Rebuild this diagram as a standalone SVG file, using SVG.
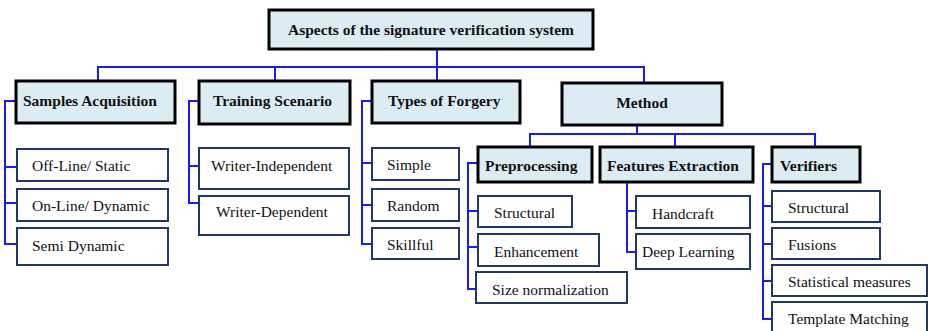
<svg xmlns="http://www.w3.org/2000/svg" width="928" height="331" viewBox="0 0 928 331">
<style>
.h rect{fill:#dbecf2;stroke:#000;stroke-width:3}
.c rect{fill:#fff;stroke:#1f3864;stroke-width:2}
text{font-family:"Liberation Serif","Times New Roman",serif;font-size:15.5px;fill:#111}
.h text{font-weight:bold}
#connectors path{fill:none;stroke:#1a1aff;stroke-width:2}
</style>
<rect width="928" height="331" fill="#fff"/>
<g id="connectors">
<path d="M437 49V81M98 81V67H644V83M275 67V81"/>
<path d="M16 101H5V244H17M5 167H17M5 203H17"/>
<path d="M199 101H189V203H199M189 166H199"/>
<path d="M372 101H362V244H372M362 163H372M362 205H372"/>
<path d="M637 125V134M530 147V134H815V147M675 134V147"/>
<path d="M478 163H468V289H476M468 211H478M468 247H478"/>
<path d="M627 182V252H636M627 211H636"/>
<path d="M772 164H763V319H772M763 206H772M763 244H772M763 281H772"/>
</g>
<g id="root" class="h"><rect x="269" y="10" width="324" height="39"/><text x="431" y="35" text-anchor="middle">Aspects of the signature verification system</text></g>
<g id="samples" class="h"><rect x="16" y="81" width="159" height="42"/><text x="23" y="106">Samples Acquisition</text></g>
<g id="training" class="h"><rect x="199" y="81" width="151" height="43"/><text x="213" y="106">Training Scenario</text></g>
<g id="forgery" class="h"><rect x="372" y="81" width="148" height="42"/><text x="388" y="106">Types of Forgery</text></g>
<g id="method" class="h"><rect x="562" y="83" width="160" height="42"/><text x="642" y="108" text-anchor="middle">Method</text></g>
<g id="preprocessing" class="h"><rect x="478" y="147" width="114" height="35"/><text x="485" y="171">Preprocessing</text></g>
<g id="features" class="h"><rect x="600" y="147" width="153" height="35"/><text x="607" y="171">Features Extraction</text></g>
<g id="verifiers" class="h"><rect x="772" y="147" width="88" height="35"/><text x="780" y="171">Verifiers</text></g>
<g id="offline" class="c"><rect x="17" y="149" width="151" height="32"/><text x="32" y="171">Off-Line/ Static</text></g>
<g id="online" class="c"><rect x="17" y="189" width="151" height="32"/><text x="32" y="211">On-Line/ Dynamic</text></g>
<g id="semi" class="c"><rect x="17" y="228" width="151" height="37"/><text x="32" y="251">Semi Dynamic</text></g>
<g id="wi" class="c"><rect x="199" y="148" width="150" height="41"/><text x="211" y="171">Writer-Independent</text></g>
<g id="wd" class="c"><rect x="199" y="196" width="150" height="39"/><text x="216" y="217">Writer-Dependent</text></g>
<g id="simple" class="c"><rect x="372" y="148" width="87" height="32"/><text x="387" y="170">Simple</text></g>
<g id="random" class="c"><rect x="372" y="189" width="87" height="32"/><text x="387" y="211">Random</text></g>
<g id="skillful" class="c"><rect x="372" y="228" width="87" height="31"/><text x="387" y="250">Skillful</text></g>
<g id="p-structural" class="c"><rect x="478" y="196" width="94" height="31"/><text x="494" y="218">Structural</text></g>
<g id="enhancement" class="c"><rect x="478" y="234" width="121" height="32"/><text x="494" y="257">Enhancement</text></g>
<g id="size" class="c"><rect x="476" y="272" width="151" height="31"/><text x="492" y="295">Size normalization</text></g>
<g id="handcraft" class="c"><rect x="636" y="196" width="114" height="32"/><text x="652" y="219">Handcraft</text></g>
<g id="deep" class="c"><rect x="636" y="234" width="114" height="35"/><text x="642" y="257">Deep Learning</text></g>
<g id="v-structural" class="c"><rect x="772" y="191" width="108" height="31"/><text x="788" y="213">Structural</text></g>
<g id="fusions" class="c"><rect x="772" y="228" width="108" height="31"/><text x="788" y="250">Fusions</text></g>
<g id="statistical" class="c"><rect x="772" y="265" width="155" height="31"/><text x="788" y="287">Statistical measures</text></g>
<g id="template" class="c"><rect x="772" y="302" width="155" height="34"/><text x="788" y="324">Template Matching</text></g>
</svg>
